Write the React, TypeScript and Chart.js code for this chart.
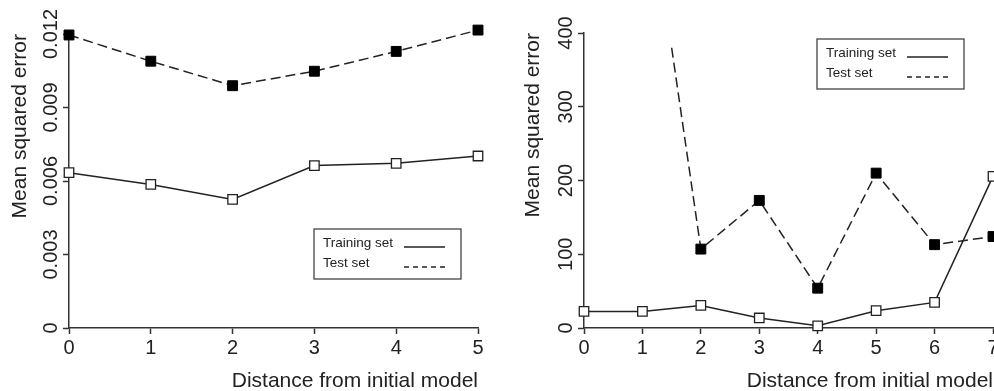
import { useEffect, useRef } from "react";
import { Chart, registerables } from "chart.js";

Chart.register(...registerables);

const FONT = '"Liberation Sans", Arial, Helvetica, sans-serif';
const INK = "#222222";
const AXIS = "#333333";

const seriesLabels = ["Training set", "Test set"];
const xTitle = "Distance from initial model";
const yTitle = "Mean squared error";

// Left panel
const leftX = [0, 1, 2, 3, 4, 5];
const leftTraining = [0.00634, 0.00586, 0.00525, 0.00663, 0.00672, 0.00702];
const leftTest = [0.01196, 0.01089, 0.00989, 0.01048, 0.01129, 0.01216];
const leftYTicks = [0, 0.003, 0.006, 0.009, 0.012];
const leftYTickLabels = ["0", "0.003", "0.006", "0.009", "0.012"];

// Right panel
const rightX = [0, 1, 2, 3, 4, 5, 6, 7];
const rightTraining = [22.5, 22.5, 30.6, 13.6, 3, 23.5, 34.7, 205.6];
const rightTestX = [1.5, 2, 3, 4, 5, 6, 7];
const rightTest = [380, 107, 173, 54, 210, 113, 124];
const rightTestMarker = [false, true, true, true, true, true, true];
const rightYTicks = [0, 100, 200, 300, 400];
const rightYTickLabels = ["0", "100", "200", "300", "400"];

const decor = {
  id: "decor",
  afterDraw(chart: any, _args: any, opts: any) {
    const ctx = chart.ctx as CanvasRenderingContext2D;
    const ys = chart.scales.y;
    const area = chart.chartArea;
    ctx.save();
    ctx.fillStyle = INK;
    ctx.font = `20px ${FONT}`;
    ctx.textAlign = "center";
    ctx.textBaseline = "alphabetic";
    (opts.ticks as number[]).forEach((v, i) => {
      const py = ys.getPixelForValue(v);
      ctx.save();
      ctx.translate(area.left - 12, py);
      ctx.rotate(-Math.PI / 2);
      ctx.fillText(opts.labels[i], 0, 0);
      ctx.restore();
    });
    // legend box
    const lx = area.left + opts.legend.dx;
    const ly = area.top + opts.legend.dy;
    ctx.strokeStyle = "#444";
    ctx.lineWidth = 1.3;
    ctx.setLineDash([]);
    ctx.strokeRect(lx, ly, opts.legend.w, opts.legend.h);
    ctx.font = `13.5px ${FONT}`;
    ctx.textAlign = "left";
    ctx.textBaseline = "middle";
    chart.data.datasets.forEach((ds: any, i: number) => {
      const rowY = ly + 14 + i * 20;
      ctx.fillStyle = INK;
      ctx.fillText(ds.label, lx + 9, rowY);
      ctx.strokeStyle = INK;
      ctx.lineWidth = 1.3;
      ctx.setLineDash(i === 0 ? [] : [5, 4]);
      ctx.beginPath();
      ctx.moveTo(lx + 90, rowY + 4);
      ctx.lineTo(lx + 131, rowY + 4);
      ctx.stroke();
    });
    ctx.restore();
  },
};

function makeConfig(p: {
  trainX: number[];
  train: number[];
  testX: number[];
  test: number[];
  testMarker: boolean[];
  xMax: number;
  yMax: number;
  yTicks: number[];
  yLabels: string[];
  yWidth: number;
  yTitlePad: number;
  top: number;
  legend: { dx: number; dy: number; w: number; h: number };
}) {
  return {
    type: "line" as const,
    data: {
      datasets: [
        {
          label: seriesLabels[0],
          data: p.trainX.map((x, i) => ({ x, y: p.train[i] })),
          borderColor: INK,
          borderWidth: 1.5,
          pointStyle: "rect",
          pointRadius: 6.7,
          pointBackgroundColor: "#ffffff",
          pointBorderColor: INK,
          pointBorderWidth: 1.3,
          clip: false,
          tension: 0,
        },
        {
          label: seriesLabels[1],
          data: p.testX.map((x, i) => ({ x, y: p.test[i] })),
          borderColor: INK,
          borderWidth: 1.5,
          borderDash: [10, 5],
          pointStyle: "rect",
          pointRadius: p.testMarker.map((m) => (m ? 7 : 0)),
          pointBackgroundColor: "#000000",
          pointBorderColor: "#000000",
          pointBorderWidth: 1,
          clip: false,
          tension: 0,
        },
      ],
    },
    options: {
      animation: false,
      responsive: false,
      devicePixelRatio: 1,
      layout: { padding: { top: p.top, right: 22, bottom: 0, left: 0 } },
      plugins: {
        legend: { display: false },
        tooltip: { enabled: false },
        decor: { ticks: p.yTicks, labels: p.yLabels, legend: p.legend },
      },
      scales: {
        x: {
          type: "linear",
          min: 0,
          max: p.xMax,
          ticks: {
            stepSize: 1,
            color: INK,
            padding: 2,
            font: { family: FONT, size: 20 },
          },
          grid: {
            drawOnChartArea: false,
            drawTicks: true,
            tickLength: 6,
            tickColor: AXIS,
            tickWidth: 1.5,
          },
          border: { display: true, color: AXIS, width: 1.5 },
          title: {
            display: true,
            text: xTitle,
            align: "end",
            color: INK,
            font: { family: FONT, size: 21, lineHeight: 1 },
            padding: { top: 0, bottom: -1 },
          },
          afterFit(scale: any) {
            scale.height = 63;
          },
        },
        y: {
          type: "linear",
          min: 0,
          max: p.yMax,
          afterBuildTicks(scale: any) {
            scale.ticks = p.yTicks.map((v) => ({ value: v }));
          },
          ticks: { color: "rgba(0,0,0,0)", font: { family: FONT, size: 20 } },
          grid: {
            drawOnChartArea: false,
            drawTicks: true,
            tickLength: 6,
            tickColor: AXIS,
            tickWidth: 1.5,
          },
          border: { display: true, color: AXIS, width: 1.5 },
          title: {
            display: true,
            text: yTitle,
            align: "end",
            color: INK,
            font: { family: FONT, size: 21, lineHeight: 1 },
            padding: { top: p.yTitlePad, bottom: 0 },
          },
          afterFit(scale: any) {
            scale.width = p.yWidth;
          },
        },
      },
    },
    plugins: [decor],
  };
}

function Panel({ config, left, width }: { config: any; left: number; width: number }) {
  const ref = useRef<HTMLCanvasElement | null>(null);
  useEffect(() => {
    if (!ref.current) return;
    const chart = new Chart(ref.current, config);
    return () => chart.destroy();
  }, [config]);
  return (
    <div style={{ position: "absolute", left, top: 0, width, height: 391 }}>
      <canvas ref={ref} width={width} height={391} style={{ display: "block" }} />
    </div>
  );
}

const leftConfig = makeConfig({
  trainX: leftX,
  train: leftTraining,
  testX: leftX,
  test: leftTest,
  testMarker: leftX.map(() => true),
  xMax: 5,
  yMax: 0.012,
  yTicks: leftYTicks,
  yLabels: leftYTickLabels,
  yWidth: 69,
  yTitlePad: 9.5,
  top: 34,
  legend: { dx: 245, dy: 195, w: 147, h: 50 },
});

const rightConfig = makeConfig({
  trainX: rightX,
  train: rightTraining,
  testX: rightTestX,
  test: rightTest,
  testMarker: rightTestMarker,
  xMax: 7,
  yMax: 400,
  yTicks: rightYTicks,
  yLabels: rightYTickLabels,
  yWidth: 84,
  yTitlePad: 22.5,
  top: 33,
  legend: { dx: 233, dy: 6, w: 147, h: 50 },
});

export default function App() {
  return (
    <div
      style={{
        position: "absolute",
        left: 0,
        top: 0,
        width: 994,
        height: 391,
        overflow: "hidden",
        background: "#ffffff",
      }}
    >
      <Panel config={leftConfig} left={0} width={500} />
      <Panel config={rightConfig} left={500} width={515} />
    </div>
  );
}
